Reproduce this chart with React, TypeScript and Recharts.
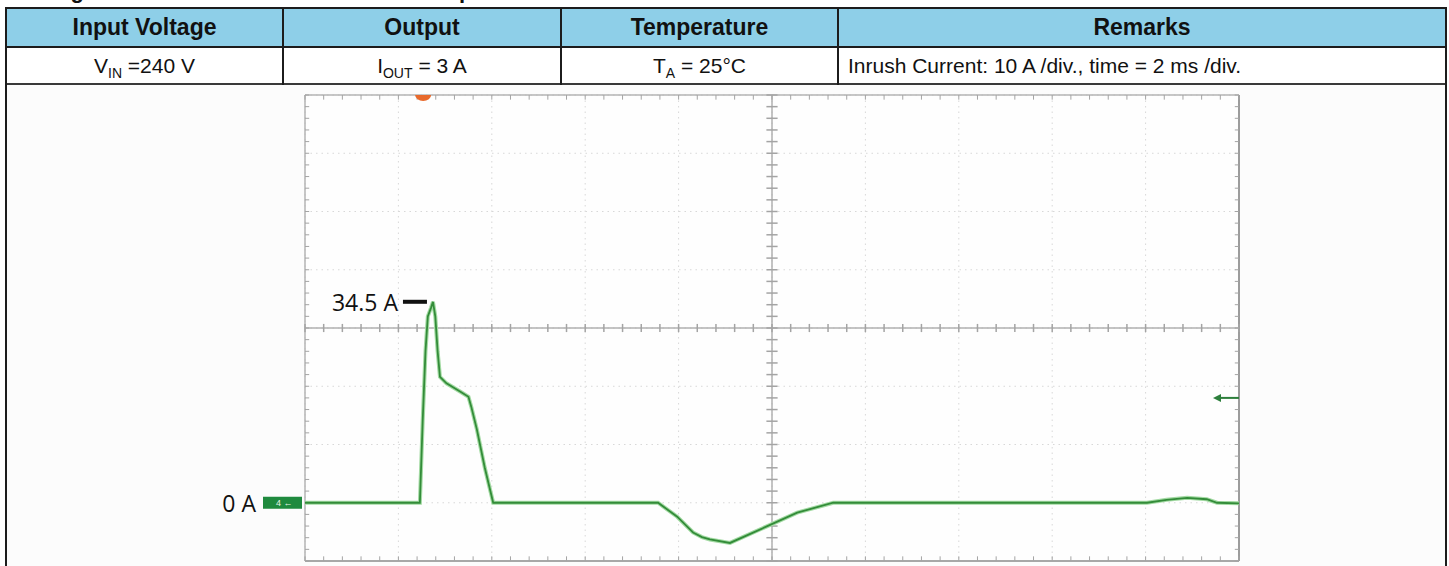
import React from 'react';
import {
  LineChart,
  Line,
  XAxis,
  YAxis,
  CartesianGrid,
  ReferenceLine,
  ReferenceDot,
} from 'recharts';

// scope trace (2 ms/div, 10 A/div)
const TIME_MS = [
  0, 2.46, 2.52, 2.58, 2.63, 2.7, 2.74, 2.79, 2.84, 2.89, 3.03, 3.32, 3.5, 3.56, 3.68, 3.85, 4.03,
  5.6, 7.56, 7.97, 8.31, 8.5, 8.67, 9.1, 9.96, 10.54, 11.31, 14.5, 18.03, 18.45, 18.89, 19.31,
  19.53, 20,
];
const CURRENT_A = [
  0, 0, 14, 26, 32, 33.5, 34.5, 32, 26, 21.6, 20.5, 19.1, 18.2, 16.5, 12.6, 6, 0,
  0, 0, -2.4, -5.1, -5.9, -6.3, -6.9, -3.8, -1.7, 0, 0, 0, 0.5, 0.85, 0.6,
  0, -0.1,
];

const X_TICKS = [0, 2, 4, 6, 8, 10, 12, 14, 16, 18, 20];
const Y_TICKS = [-10, 0, 10, 20, 30, 40, 50, 60, 70];
const MINOR_T = Array.from({ length: 51 }, (_, i) => +(i * 0.4).toFixed(2));
const MINOR_A = Array.from({ length: 41 }, (_, i) => -10 + i * 2);

const PEAK_T = 2.74;
const PEAK_A = 34.5;
const TRIG_T = 2.53;
const TRIG_LEVEL_A = 18;

const TITLE = 'Figure 15. Inrush Current at 240 VAC Input';
const COLS = [6, 283, 561, 838, 1446];

const data = TIME_MS.map((t, i) => ({ t, a: CURRENT_A[i] }));

const TICK = '#a4a4a4';
const EDGE = '#b4b4b4';

const PeakMark = (props: any) => {
  const { cx, cy } = props;
  return (
    <g>
      <text
        x={cx - 35}
        y={cy}
        textAnchor="end"
        dominantBaseline="central"
        fontFamily="'Open Sans', sans-serif"
        fontSize={23}
        fill="#111"
      >
        34.5 A
      </text>
      <rect x={cx - 30} y={cy - 2} width={24} height={4} fill="#111" />
    </g>
  );
};

const GroundMark = (props: any) => {
  const { cx, cy } = props;
  return (
    <g>
      <text
        x={cx - 49}
        y={cy}
        textAnchor="end"
        dominantBaseline="central"
        fontFamily="'Open Sans', sans-serif"
        fontSize={23}
        fill="#111"
      >
        0 A
      </text>
      <rect x={cx - 42} y={cy - 6} width={39} height={12} fill="#1f8a3e" />
      <text x={cx - 29} y={cy + 3.5} fontSize={9} fill="#e8f5e8" fontFamily="sans-serif">
        4 ←
      </text>
    </g>
  );
};

const TrigArrow = (props: any) => {
  const { cx, cy } = props;
  return (
    <g>
      <line x1={cx - 20} y1={cy} x2={cx} y2={cy} stroke="#2d7f3c" strokeWidth={2} />
      <path d={`M${cx - 26},${cy} L${cx - 18},${cy - 4} L${cx - 18},${cy + 4} Z`} fill="#2d7f3c" />
    </g>
  );
};

const TrigPos = (props: any) => {
  const { cx, cy } = props;
  return <path d={`M${cx - 8},${cy} A8,6 0 0 0 ${cx + 8},${cy} Z`} fill="#e8692b" />;
};

function ScopeChart() {
  return (
    <LineChart
      width={1449}
      height={566}
      data={data}
      margin={{ top: 95, right: 210, bottom: 5, left: 305 }}
    >
      <CartesianGrid
        stroke="#d8d8d8"
        strokeDasharray="1.5 4"
        fill="#fefefe"
      />
      <XAxis dataKey="t" type="number" domain={[0, 20]} ticks={X_TICKS} hide />
      <YAxis type="number" domain={[-10, 70]} ticks={Y_TICKS} hide />

      {/* frame and centre axes */}
      <ReferenceLine x={0} stroke={EDGE} strokeWidth={1.5} ifOverflow="visible" />
      <ReferenceLine x={20} stroke="#9c9c9c" strokeWidth={2} ifOverflow="visible" />
      <ReferenceLine y={70} stroke={EDGE} strokeWidth={1.5} ifOverflow="visible" />
      <ReferenceLine y={-10} stroke="#a8a8a8" strokeWidth={2} ifOverflow="visible" />
      <ReferenceLine x={10} stroke="#b0b0b0" strokeWidth={1.5} ifOverflow="visible" />
      <ReferenceLine y={30} stroke="#b0b0b0" strokeWidth={1.5} ifOverflow="visible" />

      {/* minor ticks along frame and centre axes */}
      {MINOR_T.map((t) => (
        <ReferenceLine key={`tt${t}`} segment={[{ x: t, y: 70 }, { x: t, y: 69.2 }]} stroke={TICK} ifOverflow="visible" />
      ))}
      {MINOR_T.map((t) => (
        <ReferenceLine key={`tb${t}`} segment={[{ x: t, y: -10 }, { x: t, y: -9.2 }]} stroke={TICK} ifOverflow="visible" />
      ))}
      {MINOR_T.map((t) => (
        <ReferenceLine key={`tc${t}`} segment={[{ x: t, y: 29.3 }, { x: t, y: 30.7 }]} stroke={TICK} strokeWidth={1.5} ifOverflow="visible" />
      ))}
      {MINOR_A.map((a) => (
        <ReferenceLine key={`al${a}`} segment={[{ x: 0, y: a }, { x: 0.09, y: a }]} stroke={TICK} ifOverflow="visible" />
      ))}
      {MINOR_A.map((a) => (
        <ReferenceLine key={`ar${a}`} segment={[{ x: 20, y: a }, { x: 19.91, y: a }]} stroke={TICK} ifOverflow="visible" />
      ))}
      {MINOR_A.map((a) => (
        <ReferenceLine key={`ac${a}`} segment={[{ x: 9.88, y: a }, { x: 10.12, y: a }]} stroke={TICK} strokeWidth={1.5} ifOverflow="visible" />
      ))}

      <Line
        type="linear"
        dataKey="a"
        stroke="#a3daa3"
        strokeWidth={4}
        dot={false}
        activeDot={false}
        isAnimationActive={false}
      />
      <Line
        type="linear"
        dataKey="a"
        stroke="#338c39"
        strokeWidth={1.8}
        dot={false}
        activeDot={false}
        isAnimationActive={false}
      />

      <ReferenceDot x={TRIG_T} y={70} r={6} shape={TrigPos} ifOverflow="visible" />
      <ReferenceDot x={PEAK_T} y={PEAK_A} r={4} shape={PeakMark} ifOverflow="visible" />
      <ReferenceDot x={0} y={0} r={4} shape={GroundMark} ifOverflow="visible" />
      <ReferenceDot x={20} y={TRIG_LEVEL_A} r={4} shape={TrigArrow} ifOverflow="visible" />
    </LineChart>
  );
}

const line = (style: React.CSSProperties) => (
  <div style={{ position: 'absolute', background: '#1c1c1c', ...style }} />
);

const sub = (s: string) => (
  <span style={{ fontSize: 14, position: 'relative', top: 5 }}>{s}</span>
);

export default function App() {
  const headers = ['Input Voltage', 'Output', 'Temperature', 'Remarks'];
  const cells = [
    <span>V{sub('IN')}{' =240 V'}</span>,
    <span>I{sub('OUT')}{' = 3 A'}</span>,
    <span>T{sub('A')}{' = 25°C'}</span>,
    <span>Inrush Current: 10 A /div., time = 2 ms /div.</span>,
  ];
  return (
    <div
      style={{
        position: 'absolute',
        left: 0,
        top: 0,
        width: 1449,
        height: 566,
        overflow: 'hidden',
        background: '#fff',
        fontFamily: '"Liberation Sans", Arial, sans-serif',
        color: '#111',
      }}
    >
      <div
        style={{
          position: 'absolute',
          left: 51,
          top: -20,
          fontSize: 22,
          lineHeight: '22px',
          fontWeight: 'bold',
          whiteSpace: 'nowrap',
        }}
      >
        {TITLE}
      </div>

      <div style={{ position: 'absolute', left: 6, top: 8, width: 1440, height: 39, background: '#8ecfe8' }} />
      <div style={{ position: 'absolute', left: 6, top: 84, width: 1440, height: 500, background: '#fcfcfc' }} />

      {headers.map((h, i) => (
        <div
          key={h}
          style={{
            position: 'absolute',
            left: COLS[i],
            top: 8,
            width: COLS[i + 1] - COLS[i],
            height: 39,
            display: 'flex',
            alignItems: 'center',
            justifyContent: 'center',
            fontWeight: 'bold',
            fontSize: 23,
          }}
        >
          {h}
        </div>
      ))}
      {cells.map((c, i) => (
        <div
          key={i}
          style={{
            position: 'absolute',
            left: COLS[i] + (i === 3 ? 10 : 0),
            top: 47,
            width: COLS[i + 1] - COLS[i] - (i === 3 ? 10 : 0),
            height: 37,
            display: 'flex',
            alignItems: 'center',
            justifyContent: i === 3 ? 'flex-start' : 'center',
            fontSize: 21,
            whiteSpace: 'pre',
          }}
        >
          {c}
        </div>
      ))}

      {line({ left: 6, top: 7, width: 1441, height: 2 })}
      {line({ left: 6, top: 46, width: 1441, height: 2 })}
      {line({ left: 6, top: 83, width: 1441, height: 2, background: '#3a3a3a' })}
      {line({ left: 5, top: 7, width: 2, height: 600 })}
      {line({ left: 1445, top: 7, width: 2, height: 600 })}
      {COLS.slice(1, 4).map((x) => (
        <React.Fragment key={x}>{line({ left: x - 1, top: 7, width: 2, height: 78 })}</React.Fragment>
      ))}

      <div style={{ position: 'absolute', left: 0, top: 0 }}>
        <ScopeChart />
      </div>
    </div>
  );
}
